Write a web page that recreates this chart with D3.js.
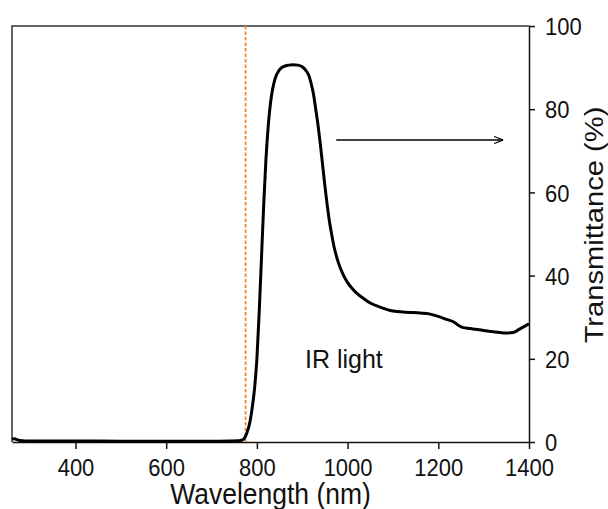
<!DOCTYPE html>
<html>
<head>
<meta charset="utf-8">
<script src="https://cdn.jsdelivr.net/npm/d3@7"></script>
<style>
  body { margin: 0; background: #fff; }
  text { font-family: "Liberation Sans", Arial, sans-serif; fill: #111; }
</style>
</head>
<body>
<div class="chart_area"></div>
<script>
// transmittance spectrum
var wavelength = [260,265,275,290,320,400,500,600,700,740,
                  760,768,773,778,785,790,795,800,805,810,
                  815,820,825,830,835,840,850,860,870,880,
                  890,900,910,915,920,925,930,935,940,945,
                  950,955,960,965,970,980,990,1000,1010,1020,1035,
                  1050,1070,1100,1130,1160,1180,1200,1220,1235,1245,
                  1255,1270,1300,1330,1350,1365,1380,1390,1400];
var transmittance = [0.7,0.8,0.4,0.25,0.25,0.25,0.2,0.2,0.2,0.25,
                     0.3,0.5,1.0,2.2,5.0,8.5,13,20,31,44,
                     57,68,76,81.5,85,87.3,89.5,90.3,90.6,90.7,
                     90.6,90.2,89,88,86,83.5,79.8,76,71.5,66.5,
                     61.5,57,53,49.8,47,43,40.3,38.3,36.9,35.8,34.5,
                     33.4,32.5,31.5,31.2,31,30.8,30.2,29.4,28.8,28,
                     27.5,27.3,26.8,26.4,26.2,26.3,27.2,27.8,28.4];

var xTicks = [400, 600, 800, 1000, 1200, 1400];
var yTicks = [0, 20, 40, 60, 80, 100];
var cutoff = 775;                 // orange dashed marker
var arrowFrom = [975, 72.6], arrowTo = [1343, 72.6];
var label = { text: "IR light", x: 906, y: 17.8 };

var width = 608, height = 509;
var margin = { top: 26, right: 79, bottom: 67, left: 12 };
var stretch = 1.12;   // text in the picture is a bit taller than wide

var svg = d3.select(".chart_area")
    .append("svg")
    .attr("width", width)
    .attr("height", height);

var x = d3.scaleLinear()
    .domain([260, 1400])
    .range([margin.left, width - margin.right]);

var y = d3.scaleLinear()
    .domain([0, 100])
    .range([height - margin.bottom, margin.top]);

// top and left frame
svg.append("path")
    .attr("d", "M" + x(260) + "," + y(0) + "V" + y(100) + "H" + x(1400))
    .attr("fill", "none")
    .attr("stroke", "#333")
    .attr("stroke-width", 1.5);

// bottom axis
var xAxis = svg.append("g")
    .attr("transform", "translate(0," + y(0) + ")")
    .call(d3.axisBottom(x).tickValues(xTicks).tickFormat(d3.format("d"))
        .tickSize(7).tickSizeOuter(0));

xAxis.selectAll("text")
    .attr("y", 34.5 / stretch)
    .attr("dy", 0)
    .attr("transform", "scale(1," + stretch + ")")
    .style("font-size", "22px");

// right axis
var yAxis = svg.append("g")
    .attr("transform", "translate(" + x(1400) + ",0)")
    .call(d3.axisRight(y).tickValues(yTicks).tickFormat(d3.format("d"))
        .tickSize(6).tickSizeOuter(0));

yAxis.selectAll("text")
    .attr("x", 16)
    .attr("dy", 0)
    .attr("y", 8.6 / stretch)
    .attr("transform", "scale(1," + stretch + ")")
    .style("font-size", "22px");

[xAxis, yAxis].forEach(function (a) {
    a.select(".domain").attr("stroke", "#111").attr("stroke-width", 1.5);
    a.selectAll("line").attr("stroke", "#111").attr("stroke-width", 1.5);
    a.selectAll("text").attr("fill", "#111").attr("font-family", null);
});

// axis titles
svg.append("text")
    .attr("transform", "translate(" + ((x(260) + x(1400)) / 2) + "," + (height - 5) + ") scale(1," + stretch + ")")
    .attr("text-anchor", "middle")
    .style("font-size", "26.5px")
    .text("Wavelength (nm)");

svg.append("text")
    .attr("transform", "translate(603," + (y(50) - 9) + ") scale(1," + stretch + ") rotate(-90)")
    .attr("text-anchor", "middle")
    .style("font-size", "26px")
    .text("Transmittance (%)");

// cutoff marker
svg.append("line")
    .attr("x1", x(cutoff)).attr("x2", x(cutoff))
    .attr("y1", y(100)).attr("y2", y(0))
    .attr("stroke", "#ee8a35")
    .attr("stroke-width", 1.8)
    .attr("stroke-dasharray", "3.5,2");

// spectrum
var points = wavelength.map(function (w, i) { return [w, transmittance[i]]; });

svg.append("path")
    .datum(points)
    .attr("fill", "none")
    .attr("stroke", "#000")
    .attr("stroke-width", 3)
    .attr("stroke-linejoin", "round")
    .attr("d", d3.line()
        .x(function (d) { return x(d[0]); })
        .y(function (d) { return y(d[1]); })
        .curve(d3.curveMonotoneX));

// arrow
svg.append("defs").append("marker")
    .attr("id", "head")
    .attr("viewBox", "0 0 10 10")
    .attr("refX", 10).attr("refY", 5)
    .attr("markerWidth", 9).attr("markerHeight", 9)
    .attr("markerUnits", "userSpaceOnUse")
    .attr("orient", "auto")
    .append("path")
    .attr("d", "M0,1 L10,5 L0,9")
    .attr("fill", "none")
    .attr("stroke", "#000")
    .attr("stroke-width", 1.2);

svg.append("line")
    .attr("x1", x(arrowFrom[0])).attr("y1", y(arrowFrom[1]))
    .attr("x2", x(arrowTo[0])).attr("y2", y(arrowTo[1]))
    .attr("stroke", "#000")
    .attr("stroke-width", 1.3)
    .attr("marker-end", "url(#head)");

svg.append("text")
    .attr("x", x(label.x))
    .attr("y", y(label.y))
    .style("font-size", "25px")
    .text(label.text);
</script>
</body>
</html>
